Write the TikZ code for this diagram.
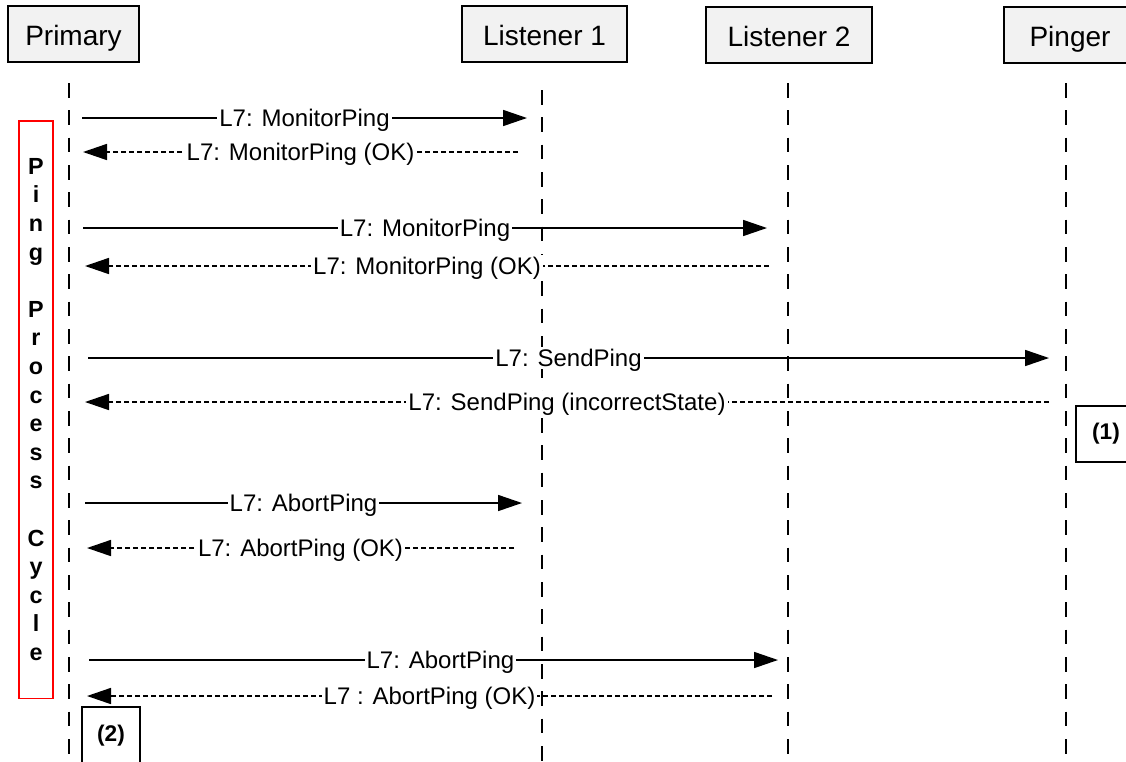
\documentclass[tikz,border=0pt]{standalone}
\usepackage{fontspec}
\setmainfont{Liberation Sans}
\usetikzlibrary{arrows.meta}
\tikzset{every picture/.style={line width=0.75pt}}
\tikzset{
  headbox/.style={draw, line width=1.3pt, fill={rgb,255:red,242;green,242;blue,242}, inner sep=0pt, minimum height=42pt, text height=18.9pt, text depth=2.1pt, font=\fontsize{21}{25}\selectfont},
  lifeline/.style={line width=1.5pt, dash pattern=on 11pt off 9.5pt},
  callmsg/.style={line width=1.2pt, -{Triangle[length=18pt,width=12pt]}},
  replymsg/.style={line width=1.2pt, dash pattern=on 3.75pt off 2.25pt, -{Triangle[length=18pt,width=12pt]}},
  msglabel/.style={fill=white, inner sep=1.5pt, text height=13pt, text depth=0pt, font=\fontsize{18}{22}\selectfont},
  notebox/.style={draw, line width=1pt, inner sep=0pt, font=\bfseries\fontsize{17}{20}\selectfont},
}

\begin{document}
\begin{tikzpicture}[x=0.75pt,y=0.75pt,yscale=-1,xscale=1]
\path [use as bounding box, clip] (0,0) rectangle (1126,761);

% Header boxes
\node [headbox, minimum width=98.25pt] (primary) at (73.5,34) {Primary};
\node [headbox, minimum width=123.75pt] (listenerA) at (544.5,34) {Listener 1};
\node [headbox, minimum width=124.5pt] (listenerB) at (789,35) {Listener 2};
\node [headbox, minimum width=99pt] (pinger) at (1070,35) {Pinger};

% Lifelines
\coordinate (primaryTop) at (69,83);
\coordinate (primaryEnd) at (69,765);
\coordinate (listenerATop) at (542,90);
\coordinate (listenerAEnd) at (542,765);
\coordinate (listenerBTop) at (788,83);
\coordinate (listenerBEnd) at (788,765);
\coordinate (pingerTop) at (1066,83);
\coordinate (pingerEnd) at (1066,765);
\draw [lifeline] (primaryTop) -- (primaryEnd);
\draw [lifeline] (listenerATop) -- (listenerAEnd);
\draw [lifeline] (listenerBTop) -- (listenerBEnd);
\draw [lifeline] (pingerTop) -- (pingerEnd);

% Shape: Cycle bracket
\node [draw=red, line width=1pt, minimum width=25.5pt, minimum height=433pt, inner sep=0pt, align=center, font=\bfseries\fontsize{17.5}{21.45}\selectfont] (cycle) at (36,409.5) {P\\i\\n\\g\\\mbox{}\\P\\r\\o\\c\\e\\s\\s\\\mbox{}\\C\\y\\c\\l\\e};

% Message end points
\coordinate (m1a) at (82,118);   \coordinate (m1b) at (527,118);
\coordinate (m2a) at (518,152);  \coordinate (m2b) at (83,152);
\coordinate (m3a) at (83,228);   \coordinate (m3b) at (767,228);
\coordinate (m4a) at (769,266);  \coordinate (m4b) at (85,266);
\coordinate (m5a) at (88,358);   \coordinate (m5b) at (1049,358);
\coordinate (m6a) at (1049,402); \coordinate (m6b) at (85,402);
\coordinate (m7a) at (85,503);   \coordinate (m7b) at (522,503);
\coordinate (m8a) at (514,548);  \coordinate (m8b) at (87,548);
\coordinate (m9a) at (89,660);   \coordinate (m9b) at (778,660);
\coordinate (m10a) at (772,696); \coordinate (m10b) at (87,696);

% Messages
\draw [callmsg] (m1a) -- node [msglabel] {L7: MonitorPing} (m1b);
\draw [replymsg] (m2a) -- node [msglabel] {L7: MonitorPing (OK)} (m2b);
\draw [callmsg] (m3a) -- node [msglabel] {L7: MonitorPing} (m3b);
\draw [replymsg] (m4a) -- node [msglabel] {L7: MonitorPing (OK)} (m4b);
\draw [callmsg] (m5a) -- node [msglabel] {L7: SendPing} (m5b);
\draw [replymsg] (m6a) -- node [msglabel] {L7: SendPing (incorrectState)} (m6b);
\draw [callmsg] (m7a) -- node [msglabel] {L7: AbortPing} (m7b);
\draw [replymsg] (m8a) -- node [msglabel] {L7: AbortPing (OK)} (m8b);
\draw [callmsg] (m9a) -- node [msglabel, pos=0.51] {L7: AbortPing} (m9b);
\draw [replymsg] (m10a) -- node [msglabel] {L7 : AbortPing (OK)} (m10b);

% Notes
\node [notebox, minimum width=45pt, minimum height=42pt] (noteA) at (1106,434) {(1)};
\node [notebox, minimum width=43.5pt, minimum height=43.5pt] (noteB) at (111,736) {(2)};

\end{tikzpicture}
\end{document}
